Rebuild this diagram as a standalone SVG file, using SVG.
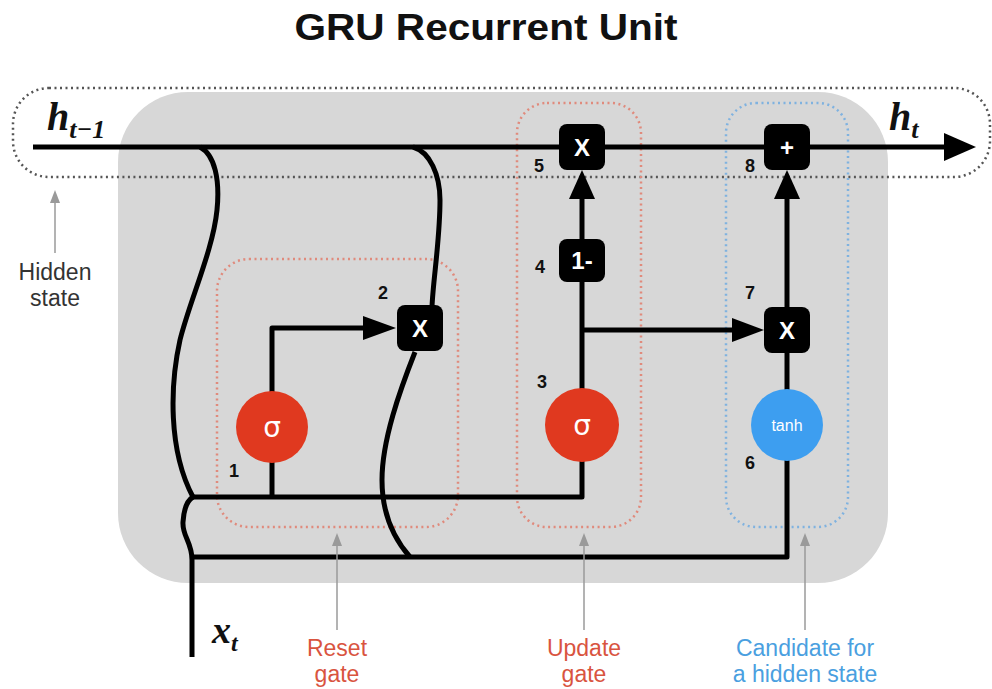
<svg xmlns="http://www.w3.org/2000/svg" width="992" height="689" viewBox="0 0 992 689">
<style>
.ln{fill:none;stroke:#000;stroke-width:5;stroke-linecap:butt;stroke-linejoin:round}
.box{fill:#000}
.op{fill:#fff;font-family:"Liberation Sans",Arial,sans-serif;font-weight:bold;font-size:24px;text-anchor:middle}
.num{fill:#111;font-family:"Liberation Sans",Arial,sans-serif;font-weight:bold;font-size:18px;text-anchor:middle}
.lbl{font-family:"Liberation Sans",Arial,sans-serif;font-size:23px;text-anchor:middle}
.math{font-family:"Liberation Serif","Times New Roman",serif;font-style:italic;font-weight:bold;fill:#111}
.ptr{stroke:#9a9a9a;stroke-width:1.5;fill:none}
.ptrh{fill:#9a9a9a}
</style>
<rect width="992" height="689" fill="#fff"/>
<text x="486" y="40" font-family="Liberation Sans,Arial,sans-serif" font-weight="bold" font-size="37" text-anchor="middle" textLength="383" lengthAdjust="spacingAndGlyphs" fill="#111">GRU Recurrent Unit</text>

<g id="cell">
<rect x="118" y="92" width="770" height="491" rx="70" fill="#d7d7d7"/>
</g>

<g id="hidden-state-box">
<rect x="13" y="88" width="977" height="89" rx="36" fill="none" stroke="#555" stroke-width="2.5" stroke-dasharray="2 3.5"/>
</g>

<g id="groups">
<rect id="reset-gate-box" x="217" y="259" width="241" height="268" rx="32" fill="none" stroke="#e08a7c" stroke-width="2.5" stroke-dasharray="2 3.5"/>
<rect id="update-gate-box" x="517" y="103" width="124" height="424" rx="30" fill="none" stroke="#e08a7c" stroke-width="2.5" stroke-dasharray="2 3.5"/>
<rect id="candidate-box" x="726" y="103" width="122" height="424" rx="30" fill="none" stroke="#7fb2e0" stroke-width="2.5" stroke-dasharray="2 3.5"/>
</g>

<g id="connectors">
<path class="ln" d="M33,147 H948" stroke-width="6"/>
<polygon points="944,133 976,147 944,161" fill="#000"/>
<path class="ln" d="M200,147 C215,155 220,180 217,210 C213,250 190,300 180,340 C170,385 168,450 193,497"/>
<path class="ln" d="M192,657 V560 C192,542 182,536 183,522 C184,506 188,500 193,497"/>
<path class="ln" d="M193,497 H582 V460"/>
<path class="ln" d="M192,557 H787 V460"/>
<path class="ln" d="M413,147 C430,152 440,175 440,200 C440,240 433,280 432,307"/>
<path class="ln" d="M415,352 C400,390 382,440 382,480 C382,515 395,540 410,557"/>
<path class="ln" d="M272,497 V328 H366"/>
<polygon points="363,316 396,328 363,340" fill="#000"/>
<path class="ln" d="M582,390 V282"/>
<path class="ln" d="M582,239 V198"/>
<polygon points="569,199 582,170 595,199" fill="#000"/>
<path class="ln" d="M582,330 H735"/>
<polygon points="732,318 764,330 732,342" fill="#000"/>
<path class="ln" d="M787,353 V390"/>
<path class="ln" d="M787,307 V198"/>
<polygon points="774,199 787,170 800,199" fill="#000"/>
</g>

<g id="node-1-reset-sigma">
<circle cx="272" cy="427" r="36" fill="#e0391f"/>
<text x="272" y="437" fill="#fff" font-family="DejaVu Sans,sans-serif" font-size="28" text-anchor="middle">σ</text>
<text class="num" x="234" y="477">1</text>
</g>
<g id="node-2-reset-mult">
<rect x="397" y="305" width="46" height="46" rx="8" class="box"/>
<text class="op" x="420" y="337">X</text>
<text class="num" x="383" y="299">2</text>
</g>
<g id="node-3-update-sigma">
<circle cx="582" cy="425" r="37" fill="#e0391f"/>
<text x="582" y="435" fill="#fff" font-family="DejaVu Sans,sans-serif" font-size="28" text-anchor="middle">σ</text>
<text class="num" x="542" y="388">3</text>
</g>
<g id="node-4-one-minus">
<rect x="559" y="239" width="46" height="43" rx="8" class="box"/>
<text class="op" x="582" y="269">1-</text>
<text class="num" x="540" y="273">4</text>
</g>
<g id="node-5-mult">
<rect x="559" y="124" width="46" height="46" rx="8" class="box"/>
<text class="op" x="582" y="156">X</text>
<text class="num" x="539" y="172">5</text>
</g>
<g id="node-6-tanh">
<circle cx="787" cy="425" r="36" fill="#3d9ef0"/>
<text x="787" y="431" fill="#fff" font-family="Liberation Sans,Arial,sans-serif" font-size="16" text-anchor="middle">tanh</text>
<text class="num" x="750" y="469">6</text>
</g>
<g id="node-7-mult">
<rect x="764" y="307" width="46" height="46" rx="8" class="box"/>
<text class="op" x="787" y="339">X</text>
<text class="num" x="750" y="299">7</text>
</g>
<g id="node-8-add">
<rect x="764" y="124" width="46" height="46" rx="8" class="box"/>
<text class="op" x="787" y="156">+</text>
<text class="num" x="750" y="172">8</text>
</g>

<g id="math-labels">
<text class="math" x="47" y="130" font-size="40">h<tspan font-size="26" dy="8">t−1</tspan></text>
<text class="math" x="889" y="130" font-size="40">h<tspan font-size="26" dy="8">t</tspan></text>
<text class="math" x="212" y="643" font-size="38" font-weight="normal">x<tspan font-size="24" dy="8">t</tspan></text>
</g>

<g id="annotations">
<path class="ptr" d="M55,253 V200"/>
<polygon class="ptrh" points="50,203 55,190 60,203"/>
<text class="lbl" x="55" y="280" fill="#333">Hidden</text>
<text class="lbl" x="55" y="306" fill="#333">state</text>
<path class="ptr" d="M337,630 V545"/>
<polygon class="ptrh" points="332,546 337,533 342,546"/>
<text class="lbl" x="337" y="656" fill="#d9543f">Reset</text>
<text class="lbl" x="337" y="682" fill="#d9543f">gate</text>
<path class="ptr" d="M584,630 V545"/>
<polygon class="ptrh" points="579,546 584,533 589,546"/>
<text class="lbl" x="584" y="656" fill="#d9543f">Update</text>
<text class="lbl" x="584" y="682" fill="#d9543f">gate</text>
<path class="ptr" d="M805,630 V545"/>
<polygon class="ptrh" points="800,546 805,533 810,546"/>
<text class="lbl" x="805" y="656" fill="#4a9fe0">Candidate for</text>
<text class="lbl" x="805" y="682" fill="#4a9fe0">a hidden state</text>
</g>
</svg>
